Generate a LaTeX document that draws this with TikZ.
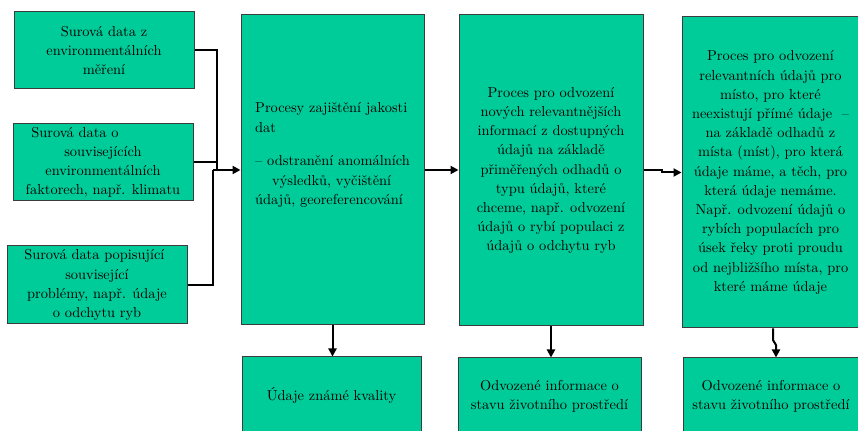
\documentclass[tikz,border=0pt]{standalone}
\usetikzlibrary{arrows.meta}
\definecolor{boxfill}{RGB}{0,204,153}
\definecolor{boxedge}{RGB}{60,60,60}
\begin{document}
\begin{tikzpicture}[x=0.75pt,y=-0.75pt,
  txt/.style={inner sep=0pt, font=\fontsize{10.8}{14.4}\selectfont},
  box/.style={txt, draw=boxedge, line width=0.75pt, fill=boxfill, align=center},
  link/.style={line width=1.5pt, black},
  arr/.style={link, -{Triangle[length=6pt,width=6pt]}}]
\useasboundingbox (0,0) rectangle (858,431);

% raw data inputs
\node[box, minimum width=135pt, minimum height=57.75pt] (b1) at (104,50.5)
  {Surová data z\\environmentálních\\měření};
\node[box, minimum width=135pt, minimum height=57.75pt] (b2) at (103,162.5)
  {Surová data o\hspace*{42pt}\\souvisejících\\environmentálních\\faktorech, např. klimatu};
\node[box, minimum width=135pt, minimum height=58.5pt] (b3) at (97,285)
  {Surová data popisující\hspace*{4pt}\\související\hspace*{8pt}\\problémy, např. údaje\hspace*{13pt}\\o odchytu ryb};

% processing stages
\node[box, minimum width=137.25pt, minimum height=232.5pt] (b4) at (332.5,170) {};
\node[txt, align=left] (t4) at (332.5,155)
  {Procesy zajištění jakosti\\dat\\[11pt]
   – odstranění anomálních\\\hspace*{12.75pt}výsledků, vyčištění\\údajů, georeferencování};
\node[box, minimum width=138pt, minimum height=233.25pt] (b5) at (551,170.5)
  {Proces pro odvození\\nových relevantnějších\\informací z dostupných\\údajů na základě\\
   přiměřených odhadů o\\typu údajů, které\\chceme, např. odvození\\údajů o rybí populaci z\\údajů o odchytu ryb};
\node[box, minimum width=132.75pt, minimum height=233.25pt] (b6) at (770.5,172.5)
  {Proces pro odvození\\relevantních údajů pro\\místo, pro které\\neexistují přímé údaje~~–\\
   na základě odhadů z\\místa (míst), pro která\\údaje máme, a těch, pro\\která údaje nemáme.\\
   Např. odvození údajů o\\rybích populacích pro\\úsek řeky proti proudu\\od nejbližšího místa, pro\\které máme údaje};

% outputs
\node[box, minimum width=134.25pt, minimum height=57.75pt] (b7) at (331.5,395.5)
  {Údaje známé kvality};
\node[box, minimum width=137.25pt, minimum height=57pt] (b8) at (549.5,396)
  {Odvozené informace o\\stavu životního prostředí};
\node[box, minimum width=132pt, minimum height=57pt] (b9) at (771,396)
  {Odvozené informace o\\stavu životního prostředí};

% connectors
\coordinate (j1) at (217,170);
\coordinate (j3) at (213,170);
\coordinate (k5) at (662,172.5);
\coordinate (d6a) at (773,340);
\coordinate (d6b) at (776,345);

\draw[link] (b1.east) -| (j1);
\draw[link] (b2.east) -- (b2.east -| j1);
\draw[link] (b3.east) -| (j3);
\draw[arr] (j3) -- (j3 -| b4.west);
\draw[arr] (b4.east) -- (b4.east -| b5.west);
\draw[arr] (b5.east) -| (k5) -- (b6.west);
\draw[arr] (b4.south) -- (b4.south |- b7.north);
\draw[arr] (b5.south) -- (b5.south |- b8.north);
\draw[arr] (b6.south -| d6a) -- (d6a) -- (d6b) -- (b9.north -| d6b);
\end{tikzpicture}
\end{document}
